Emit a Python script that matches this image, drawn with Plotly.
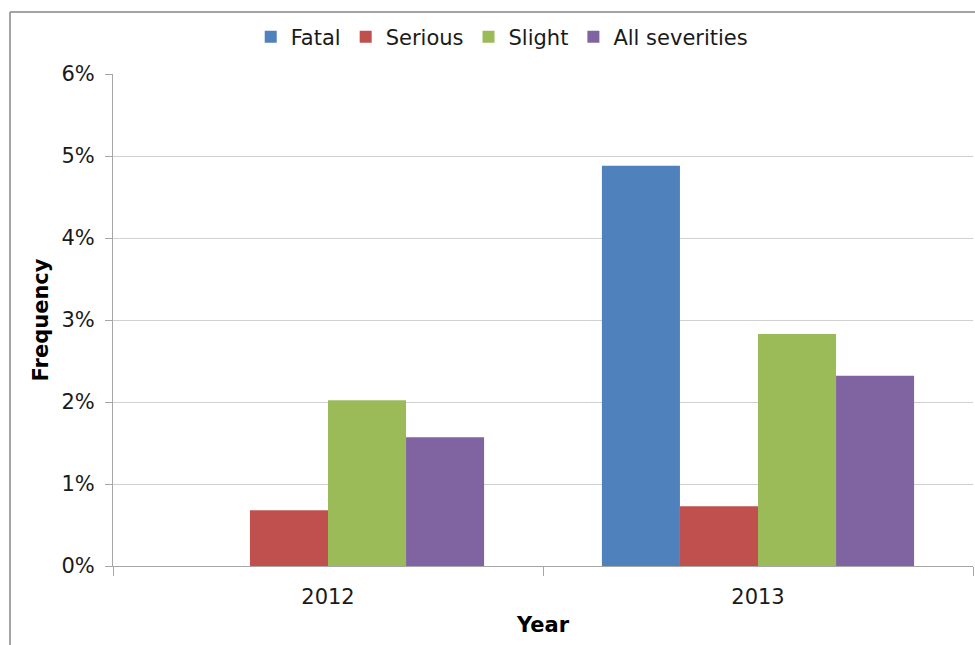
import plotly.graph_objects as go

# Casualty frequency by severity and year
years = ["2012", "2013"]
severities = ["Fatal", "Serious", "Slight", "All severities"]
fatal = [0.0, 4.88]
serious = [0.68, 0.73]
slight = [2.02, 2.83]
all_severities = [1.57, 2.32]
colors = ["#4f81bd", "#c0504d", "#9bbb59", "#8064a2"]
y_ticks = [0, 1, 2, 3, 4, 5, 6]
y_labels = [f"{v}%" for v in y_ticks]

series = [fatal, serious, slight, all_severities]

fig = go.Figure()
for name, vals, col in zip(severities, series, colors):
    fig.add_trace(go.Bar(x=years, y=vals, name=name, marker=dict(color=col, line=dict(width=0))))

font = "DejaVu Sans"
fig.update_layout(
    width=975, height=645,
    margin=dict(l=113, r=2, t=74, b=79),
    paper_bgcolor="white", plot_bgcolor="white",
    barmode="group", bargap=0.274, bargroupgap=0,
    font=dict(family=font, size=21, color="#1a1a1a"),
    legend=dict(orientation="h", x=0.452, xanchor="center", y=1.075, yanchor="middle",
                font=dict(size=21), itemwidth=30, tracegroupgap=0),
    showlegend=True,
)
fig.update_yaxes(
    range=[0, 6], tickvals=y_ticks, ticktext=y_labels,
    showgrid=True, gridcolor="#d0d0d0", gridwidth=1,
    showline=True, linecolor="#a6a6a6", linewidth=1,
    ticks="outside", ticklen=7, tickcolor="#a6a6a6", ticklabelstandoff=6,
    zeroline=False,
    title=dict(text="<b>Frequency</b>", font=dict(size=21, color="black"), standoff=7),
)
fig.update_xaxes(
    showline=True, linecolor="#a6a6a6", linewidth=1,
    ticks="outside", ticklen=9, tickcolor="#a6a6a6", tickson="boundaries",
    ticklabelstandoff=12,
    title=dict(text="<b>Year</b>", font=dict(size=21, color="black"), standoff=9),
)
# Outer chart frame
fig.add_shape(type="line", xref="paper", yref="paper",
              x0=(10 - 113) / 860, x1=(980 - 113) / 860, y0=1 + 62 / 492, y1=1 + 62 / 492,
              line=dict(color="#868686", width=1.5))
fig.add_shape(type="line", xref="paper", yref="paper",
              x0=(10 - 113) / 860, x1=(10 - 113) / 860, y0=1 + 62 / 492, y1=-90 / 492,
              line=dict(color="#868686", width=1.5))

fig.write_html("out.html")
